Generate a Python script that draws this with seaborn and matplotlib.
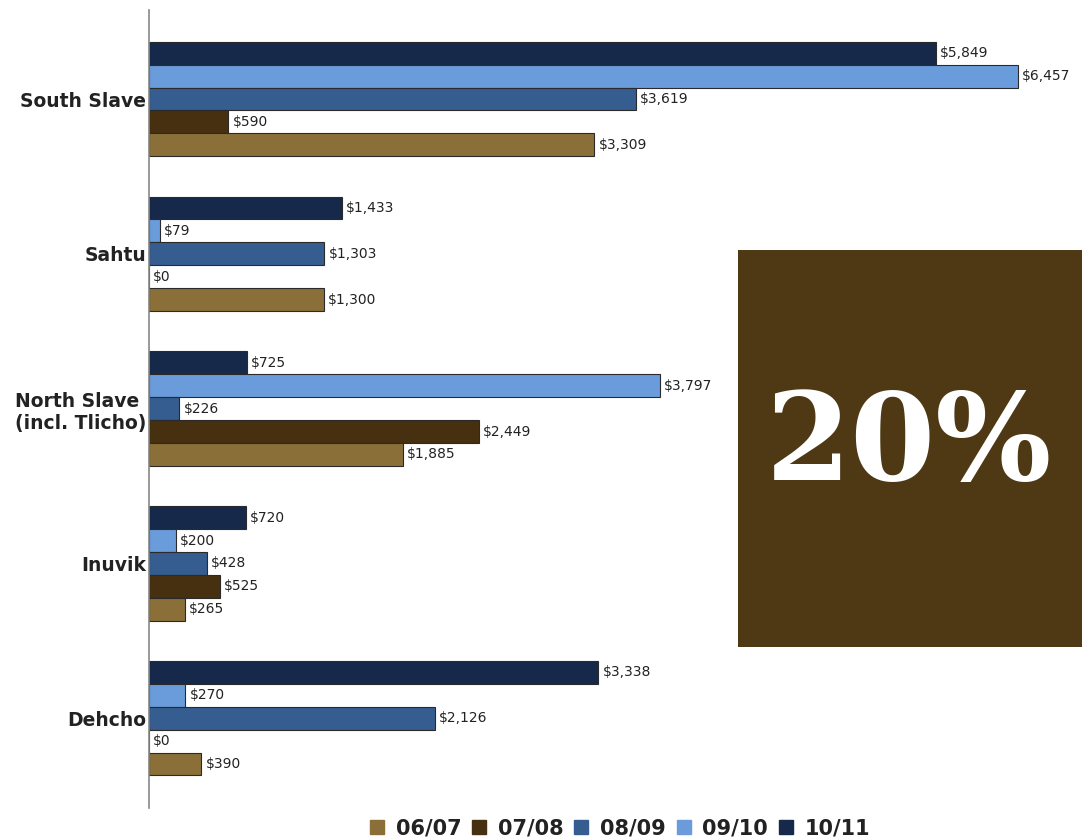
import matplotlib
matplotlib.use("Agg")
import matplotlib.pyplot as plt
from matplotlib.lines import Line2D
from matplotlib.patches import Rectangle
import seaborn as sns
import pandas as pd

regions = ["South Slave", "Sahtu", "North Slave\n(incl. Tlicho)", "Inuvik", "Dehcho"]
years = ["06/07", "07/08", "08/09", "09/10", "10/11"]
v_0607 = [3309, 1300, 1885, 265, 390]
v_0708 = [590, 0, 2449, 525, 0]
v_0809 = [3619, 1303, 226, 428, 2126]
v_0910 = [6457, 79, 3797, 200, 270]
v_1011 = [5849, 1433, 725, 720, 3338]
colors = {"06/07": "#8B6F38", "07/08": "#47300F", "08/09": "#355D8F",
          "09/10": "#6A9CDC", "10/11": "#16294A"}

series = {"06/07": v_0607, "07/08": v_0708, "08/09": v_0809, "09/10": v_0910, "10/11": v_1011}
rows = []
for y, vals in series.items():
    for r, v in zip(regions, vals):
        rows.append({"region": r, "year": y, "value": v})
df = pd.DataFrame(rows)

sns.set_style("white")
fig = plt.figure(figsize=(10.82, 8.39), dpi=100)
ax = fig.add_axes([149/1082, 1 - 808/839, (1082-149)/1082, (808-10)/839])

hue_order = ["10/11", "09/10", "08/09", "07/08", "06/07"]
sns.barplot(data=df, y="region", x="value", hue="year", hue_order=hue_order,
            order=regions, orient="h", palette=colors, saturation=1, width=0.74, gap=0,
            edgecolor="#2a2a2a", linewidth=0.8, ax=ax, legend=False, errorbar=None)

for cont, yr in zip(ax.containers, hue_order):
    labels = [f"${v:,.0f}" for v in cont.datavalues]
    ax.bar_label(cont, labels=labels, padding=3, fontsize=10, color="#222222",
                 fontfamily="DejaVu Sans")

ax.set_xlim(0, 933 / (869 / 6457))
ax.set_ylim(4.58, -0.575)
ax.set_xlabel("")
ax.set_ylabel("")
ax.set_xticks([])
for s in ["top", "right", "bottom"]:
    ax.spines[s].set_visible(False)
ax.spines["left"].set_color("#888888")
ax.spines["left"].set_linewidth(1.2)
ax.tick_params(axis="y", length=0, pad=2)
for t in ax.get_yticklabels():
    t.set_fontsize(13.5)
    t.set_fontweight("bold")
    t.set_color("#222222")
    t.set_horizontalalignment("right")
    t.set_multialignment("left")

handles = [Line2D([0], [0], marker="s", linestyle="", markersize=10,
                  markerfacecolor=colors[y], markeredgecolor=colors[y]) for y in years]
leg = fig.legend(handles, years, loc="center", bbox_to_anchor=(620/1082, 1 - 828/839),
                 ncol=5, frameon=False, handlelength=0.7, handletextpad=0.55,
                 columnspacing=0.5, prop={"size": 15, "weight": "bold"})
for t in leg.get_texts():
    t.set_color("#222222")

# brown overlay box with 20%
fig.patches.append(Rectangle((738/1082, 1 - 647/839), (1082-738)/1082, (647-250)/839,
                             transform=fig.transFigure, facecolor="#4F3914",
                             edgecolor="none", zorder=5))
fig.text(766/1082, 1 - 446/839, "20%", color="white", fontsize=88,
         fontweight="bold", fontfamily="DejaVu Serif", va="center", ha="left", zorder=6)

fig.savefig("out.png", dpi=100)
